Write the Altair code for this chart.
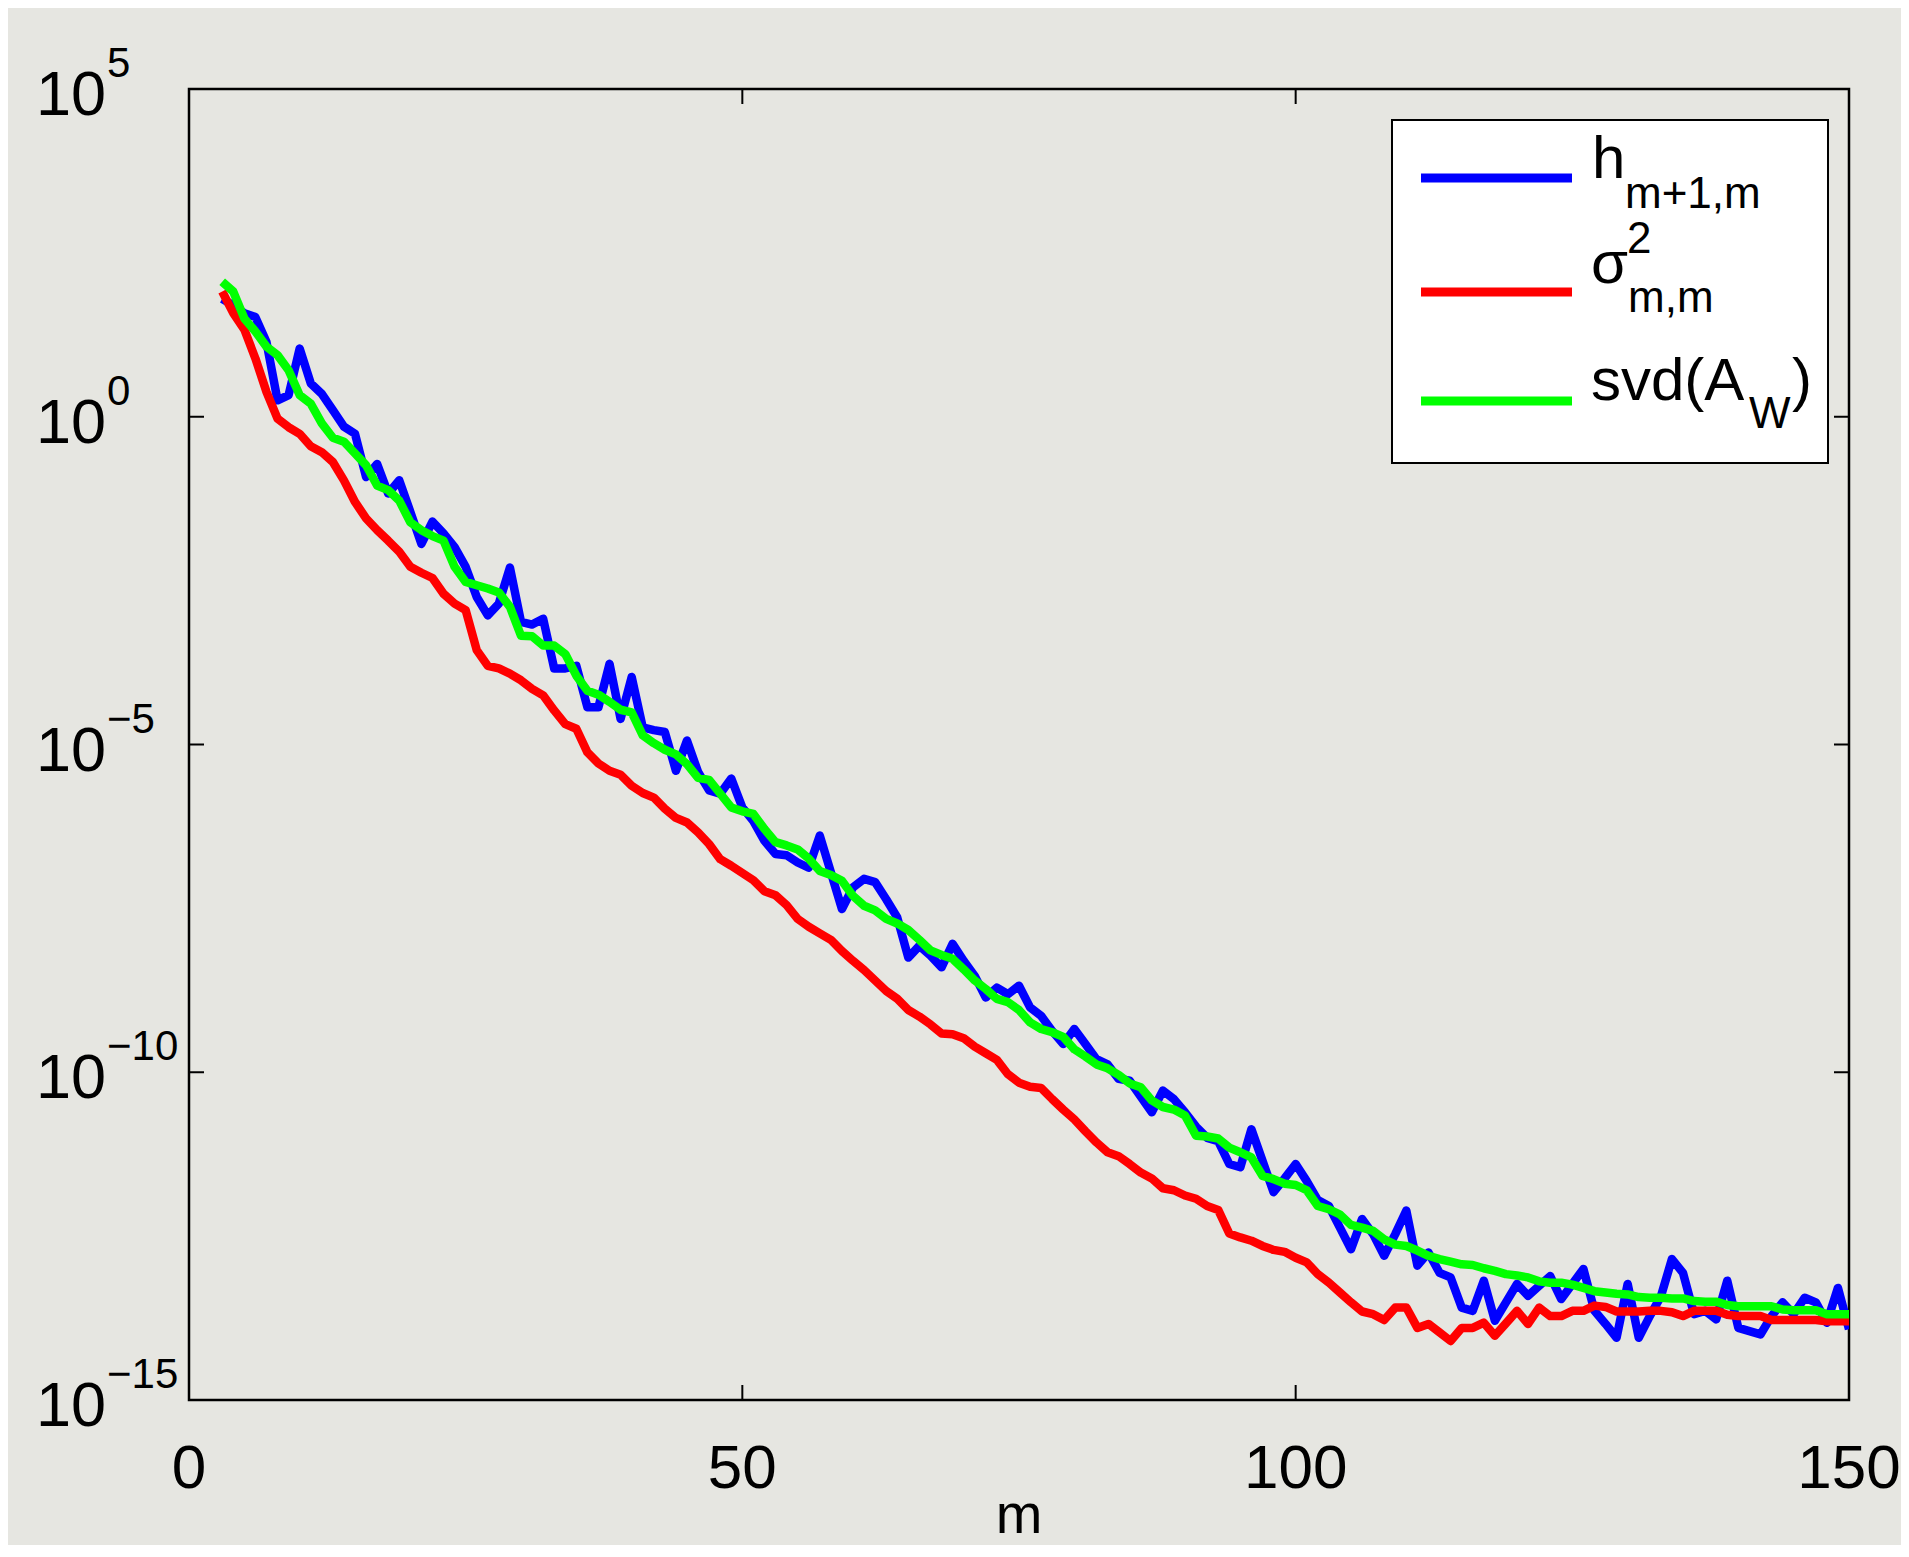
import altair as alt
import pandas as pd

# ---------------- data (log10 values) ----------------
m_values = list(range(3, 151))

h_exp = [1.80, 1.70, 1.58, 1.52, 1.14, 0.25, 0.33, 1.04, 0.51, 0.35,
         0.10, -0.15, -0.26, -0.92, -0.72, -1.17, -0.97, -1.45, -1.94, -1.60,
         -1.78, -1.99, -2.29, -2.75, -3.03, -2.85, -2.30, -3.13, -3.17, -3.08,
         -3.84, -3.84, -3.80, -4.43, -4.43, -3.77, -4.61, -3.97, -4.74, -4.78,
         -4.81, -5.40, -4.94, -5.42, -5.70, -5.75, -5.52, -5.96, -6.17, -6.47,
         -6.67, -6.69, -6.80, -6.88, -6.39, -6.95, -7.51, -7.18, -7.05, -7.10,
         -7.36, -7.64, -8.25, -8.07, -8.22, -8.40, -8.04, -8.30, -8.53, -8.86,
         -8.71, -8.81, -8.68, -9.01, -9.14, -9.37, -9.57, -9.34, -9.57, -9.80,
         -9.88, -10.10, -10.13, -10.37, -10.61, -10.28, -10.41, -10.61, -10.83, -11.00,
         -11.05, -11.40, -11.45, -10.87, -11.35, -11.83, -11.62, -11.40, -11.66, -11.95,
         -12.04, -12.37, -12.70, -12.24, -12.47, -12.80, -12.47, -12.11, -12.95, -12.75,
         -13.06, -13.13, -13.59, -13.64, -13.18, -13.79, -13.51, -13.23, -13.41, -13.26,
         -13.11, -13.46, -13.23, -13.00, -13.64, -13.84, -14.05, -13.23, -14.05, -13.72,
         -13.42, -12.85, -13.06, -13.69, -13.64, -13.77, -13.18, -13.90, -13.95, -14.00,
         -13.72, -13.51, -13.69, -13.44, -13.51, -13.82, -13.29, -13.92]

sigma_exp = [1.91, 1.58, 1.33, 0.89, 0.38, -0.03, -0.16, -0.26, -0.45, -0.54,
             -0.69, -0.97, -1.30, -1.55, -1.73, -1.89, -2.06, -2.29, -2.38, -2.46,
             -2.70, -2.85, -2.95, -3.56, -3.80, -3.84, -3.92, -4.02, -4.15, -4.25,
             -4.48, -4.69, -4.76, -5.12, -5.29, -5.40, -5.46, -5.63, -5.74, -5.81,
             -5.98, -6.12, -6.19, -6.34, -6.52, -6.75, -6.85, -6.96, -7.07, -7.24,
             -7.30, -7.45, -7.66, -7.78, -7.88, -7.98, -8.15, -8.30, -8.44, -8.60,
             -8.76, -8.88, -9.05, -9.15, -9.27, -9.41, -9.42, -9.48, -9.61, -9.71,
             -9.81, -10.03, -10.16, -10.22, -10.24, -10.41, -10.57, -10.72, -10.90, -11.07,
             -11.22, -11.28, -11.40, -11.53, -11.62, -11.77, -11.80, -11.88, -11.93, -12.04,
             -12.10, -12.46, -12.52, -12.57, -12.65, -12.71, -12.74, -12.83, -12.90, -13.08,
             -13.21, -13.36, -13.51, -13.65, -13.69, -13.78, -13.59, -13.59, -13.90, -13.84,
             -13.97, -14.10, -13.90, -13.90, -13.82, -14.02, -13.83, -13.64, -13.84, -13.59,
             -13.72, -13.72, -13.64, -13.64, -13.56, -13.58, -13.65, -13.65, -13.65, -13.64,
             -13.64, -13.66, -13.72, -13.64, -13.64, -13.64, -13.70, -13.72, -13.72, -13.72,
             -13.78, -13.78, -13.78, -13.78, -13.78, -13.80, -13.80, -13.80]

svd_exp = [2.06, 1.91, 1.50, 1.30, 1.07, 0.94, 0.71, 0.33, 0.20, -0.10,
           -0.32, -0.38, -0.56, -0.74, -1.05, -1.12, -1.28, -1.61, -1.73, -1.82,
           -1.89, -2.29, -2.52, -2.57, -2.62, -2.68, -2.90, -3.34, -3.35, -3.49,
           -3.49, -3.62, -3.95, -4.18, -4.24, -4.35, -4.47, -4.51, -4.86, -4.98,
           -5.08, -5.15, -5.30, -5.51, -5.54, -5.75, -5.96, -6.02, -6.06, -6.29,
           -6.49, -6.54, -6.60, -6.74, -6.93, -6.99, -7.08, -7.31, -7.46, -7.53,
           -7.66, -7.73, -7.83, -7.98, -8.14, -8.21, -8.27, -8.43, -8.60, -8.73,
           -8.88, -8.93, -9.05, -9.24, -9.34, -9.39, -9.46, -9.65, -9.76, -9.88,
           -9.94, -10.04, -10.17, -10.23, -10.43, -10.53, -10.57, -10.66, -10.97, -10.98,
           -11.01, -11.15, -11.22, -11.30, -11.58, -11.63, -11.70, -11.72, -11.80, -12.04,
           -12.09, -12.17, -12.33, -12.37, -12.42, -12.55, -12.63, -12.65, -12.72, -12.80,
           -12.85, -12.89, -12.93, -12.94, -12.99, -13.03, -13.08, -13.10, -13.13, -13.19,
           -13.21, -13.21, -13.24, -13.29, -13.34, -13.36, -13.38, -13.39, -13.43, -13.44,
           -13.44, -13.45, -13.45, -13.49, -13.50, -13.50, -13.55, -13.57, -13.57, -13.57,
           -13.57, -13.62, -13.63, -13.63, -13.63, -13.69, -13.69, -13.69]

x_ticks = [0, 50, 100, 150]
y_tick_exps = [5, 0, -5, -10, -15]
x_title = "m"

series_colors = {"h": "#0000ff", "sigma": "#ff0000", "svd": "#00ff00"}

# ---------------- layout constants ----------------
W, H = 1660, 1311
FONT = "Liberation Sans"
BG = "#e6e6e1"
TICK = 15

# ---------------- tables ----------------
rows = []
for name, exps in (("h", h_exp), ("sigma", sigma_exp), ("svd", svd_exp)):
    for m, e in zip(m_values, exps):
        rows.append({"series": name, "m": m, "v": 10.0 ** e})
df = pd.DataFrame(rows)

ydf = pd.DataFrame({"e": y_tick_exps})
ydf["v"] = 10.0 ** ydf["e"]
ydf["base"] = "10"
ydf["sup"] = ydf["e"].apply(lambda e: ("\u2212" + str(-e)) if e < 0 else str(e))

xdf = pd.DataFrame({"t": x_ticks, "lab": [str(t) for t in x_ticks]})

xscale = alt.Scale(domain=[0, 150], nice=False, zero=False)
yscale = alt.Scale(type="log", domain=[1e-15, 1e5], nice=False)

X = alt.X("m:Q", scale=xscale, axis=None)
Y = alt.Y("v:Q", scale=yscale, axis=None)

# ---------------- data lines ----------------
lines = []
for name in ("h", "sigma", "svd"):
    lines.append(
        alt.Chart(df).transform_filter(alt.datum.series == name)
        .mark_line(color=series_colors[name], strokeWidth=8.5, strokeJoin="round", clip=True)
        .encode(x=X, y=Y, order="m:Q")
    )

# ---------------- ticks (inward, on all four sides) ----------------
yt = alt.Chart(ydf)
ytick_l = yt.mark_rule(color="black", strokeWidth=2).encode(
    y=alt.Y("v:Q", scale=yscale, axis=None), x=alt.value(0), x2=alt.value(TICK))
ytick_r = yt.mark_rule(color="black", strokeWidth=2).encode(
    y=alt.Y("v:Q", scale=yscale, axis=None), x=alt.value(W - TICK), x2=alt.value(W))

xt = alt.Chart(xdf)
xtick_b = xt.mark_rule(color="black", strokeWidth=2).encode(
    x=alt.X("t:Q", scale=xscale, axis=None), y=alt.value(H - TICK), y2=alt.value(H))
xtick_t = xt.mark_rule(color="black", strokeWidth=2).encode(
    x=alt.X("t:Q", scale=xscale, axis=None), y=alt.value(0), y2=alt.value(TICK))

# ---------------- tick labels ----------------
ylab_base = yt.mark_text(
    align="left", baseline="alphabetic", font=FONT, fontSize=63, dy=26, color="black"
).encode(y=alt.Y("v:Q", scale=yscale, axis=None), x=alt.value(-153), text="base:N")
ylab_sup = yt.mark_text(
    align="left", baseline="alphabetic", font=FONT, fontSize=42, dy=-12, color="black"
).encode(y=alt.Y("v:Q", scale=yscale, axis=None), x=alt.value(-82), text="sup:N")

xlab = xt.mark_text(align="center", baseline="alphabetic", font=FONT, fontSize=62, color="black").encode(
    x=alt.X("t:Q", scale=xscale, axis=None), y=alt.value(H + 88), text="lab:N")

title_df = pd.DataFrame({"txt": [x_title]})
xtitle = alt.Chart(title_df).mark_text(
    align="center", baseline="alphabetic", font=FONT, fontSize=56, color="black"
).encode(x=alt.value(W / 2), y=alt.value(H + 133), text="txt:N")

# ---------------- legend (hand drawn, MATLAB style) ----------------
leg_df = pd.DataFrame({"k": [0]})
lg = alt.Chart(leg_df)
box = lg.mark_rect(fill="white", stroke="black", strokeWidth=2).encode(
    x=alt.value(1203), x2=alt.value(1639), y=alt.value(31), y2=alt.value(374))

def leg_line(color, yy):
    return lg.mark_rule(color=color, strokeWidth=9).encode(
        x=alt.value(1232), x2=alt.value(1383), y=alt.value(yy))

def leg_text(txt, xx, yy, size):
    return lg.mark_text(align="left", baseline="alphabetic", font=FONT, fontSize=size, color="black").encode(
        x=alt.value(xx), y=alt.value(yy), text=alt.value(txt))

legend_layers = [
    box,
    leg_line(series_colors["h"], 89),
    leg_line(series_colors["sigma"], 203),
    leg_line(series_colors["svd"], 312),
    leg_text("h", 1403, 89, 60),
    leg_text("m+1,m", 1436, 119, 44),
    leg_text("\u03c3", 1402, 194, 60),
    leg_text("2", 1438, 164, 44),
    leg_text("m,m", 1439, 223, 44),
    leg_text("svd(A", 1402, 311, 60),
    leg_text("W", 1560, 339, 44),
    leg_text(")", 1603, 311, 60),
]

chart = alt.layer(
    *lines, ytick_l, ytick_r, xtick_b, xtick_t,
    ylab_base, ylab_sup, xlab, xtitle,
    *legend_layers
).properties(
    width=W, height=H,
    autosize=alt.AutoSizeParams(type="none"),
    padding={"left": 181, "top": 81, "right": 52, "bottom": 145},
    background=BG,
).configure_view(
    stroke="black", strokeWidth=2.5, fill=BG
)

chart.save("out.html", embed_options={"renderer": "svg", "actions": False})
